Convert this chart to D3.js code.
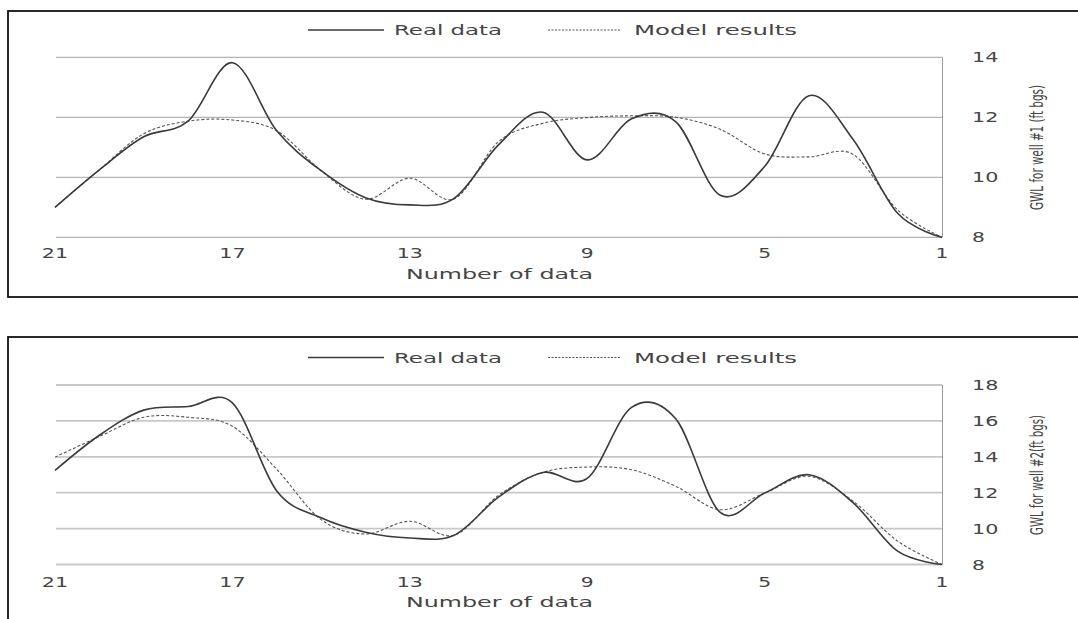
<!DOCTYPE html>
<html>
<head>
<meta charset="utf-8">
<script src="https://cdn.jsdelivr.net/npm/d3@7"></script>
<style>
  html, body { margin: 0; padding: 0; background: #fff; }
  svg { display: block; }
</style>
</head>
<body>
<svg id="chart" width="1078" height="619"></svg>
<script>
// ---- data ----
const categories = [21,20,19,18,17,16,15,14,13,12,11,10,9,8,7,6,5,4,3,2,1];
const xTickLabels = [21,17,13,9,5,1];

const well1Real  = [9.0,10.25,11.35,11.87,13.82,11.55,10.22,9.32,9.08,9.3,11.08,12.17,10.58,11.95,11.85,9.4,10.36,12.72,11.25,8.8,8.0];
const well1Model = [9.0,10.25,11.45,11.87,11.91,11.55,10.22,9.27,9.97,9.28,11.19,11.8,11.99,12.05,12.0,11.6,10.78,10.68,10.76,8.91,8.0];
const well1YTicks = [8,10,12,14];

const well2Real  = [13.24,15.2,16.6,16.8,17.0,12.1,10.6,9.8,9.48,9.63,11.75,13.13,12.8,16.75,16.1,10.9,11.98,13.0,11.43,8.74,8.0];
const well2Model = [13.98,15.13,16.2,16.2,15.7,13.3,10.5,9.7,10.41,9.63,11.85,13.13,13.43,13.28,12.35,11.05,11.98,12.91,11.52,9.3,8.0];
const well2YTicks = [8,10,12,14,16,18];

const legendLabels = ["Real data", "Model results"];
const xTitle = "Number of data";
const yTitles = ["GWL for well #1 (ft bgs)", "GWL for well #2(ft bgs)"];

// ---- drawing ----
const svg = d3.select("#chart");
svg.append("rect").attr("width",1078).attr("height",619).attr("fill","#fff");

const textColor = "#454545";
const font = "'DejaVu Sans', sans-serif";

function drawPanel(opt) {
  const g = svg.append("g");
  // panel border
  g.append("rect")
    .attr("x", 8).attr("y", opt.boxTop)
    .attr("width", 1200).attr("height", opt.boxHeight)
    .attr("fill", "none").attr("stroke", "#111").attr("stroke-width", 1.8);

  const x = d3.scalePoint().domain(categories).range([55, 942]);
  const y = d3.scaleLinear().domain(opt.yDomain).range([opt.plotBottom, opt.plotTop]);

  // gridlines
  g.selectAll("line.grid").data(opt.yTicks).enter().append("line")
    .attr("x1", 56).attr("x2", 942)
    .attr("y1", d => y(d)).attr("y2", d => y(d))
    .attr("stroke", opt.gridColor).attr("stroke-width", opt.gridWidth);

  // right axis line
  g.append("line")
    .attr("x1", 942.5).attr("x2", 942.5)
    .attr("y1", y(opt.yDomain[1])).attr("y2", y(opt.yDomain[0]))
    .attr("stroke", "#9a9a9a").attr("stroke-width", 1);

  // right axis tick labels
  g.selectAll("text.ytick").data(opt.yTicks).enter().append("text")
    .attr("x", 972).attr("y", d => y(d) + 5)
    .attr("font-family", font).attr("font-size", 14).attr("fill", textColor)
    .attr("textLength", d => String(d).length * 13.4 - 0.5)
    .attr("lengthAdjust", "spacingAndGlyphs")
    .text(d => d);

  // x tick labels
  g.selectAll("text.xtick").data(xTickLabels).enter().append("text")
    .attr("x", d => x(d)).attr("y", opt.xLabelY)
    .attr("text-anchor", "middle")
    .attr("font-family", font).attr("font-size", 14).attr("fill", textColor)
    .attr("textLength", d => String(d).length * 13.4 - 0.5)
    .attr("lengthAdjust", "spacingAndGlyphs")
    .text(d => d);

  // x title
  g.append("text")
    .attr("x", 406).attr("y", opt.xTitleY)
    .attr("font-family", font).attr("font-size", 14).attr("fill", textColor)
    .attr("textLength", 187).attr("lengthAdjust", "spacingAndGlyphs")
    .text(xTitle);

  // y title (rotated, horizontally condensed to fit the target length)
  const yt = g.append("text")
    .attr("text-anchor", "middle")
    .attr("font-family", font).attr("font-size", 18).attr("fill", textColor)
    .text(opt.yTitle);
  const natural = yt.node().getComputedTextLength() || 1;
  const k = opt.yTitleLen / natural;
  yt.attr("transform", `translate(1043,${opt.yTitleMid}) rotate(-90) scale(${k},1)`);

  // lines
  const line = d3.line()
    .x((d, i) => x(categories[i]))
    .y(d => y(d))
    .curve(d3.curveCardinal.tension(0));

  g.append("path").datum(opt.model)
    .attr("d", line).attr("fill", "none")
    .attr("stroke", "#555").attr("stroke-width", 1.1)
    .attr("stroke-dasharray", "3,2");

  g.append("path").datum(opt.real)
    .attr("d", line).attr("fill", "none")
    .attr("stroke", "#3a3a3a").attr("stroke-width", 1.6);

  // legend
  const ly = opt.legendY;
  g.append("line").attr("x1", 308).attr("x2", 384).attr("y1", ly).attr("y2", ly)
    .attr("stroke", "#3a3a3a").attr("stroke-width", 1.4);
  g.append("text").attr("x", 394).attr("y", ly + 5)
    .attr("font-family", font).attr("font-size", 14).attr("fill", textColor)
    .attr("textLength", 108).attr("lengthAdjust", "spacingAndGlyphs")
    .text(legendLabels[0]);
  g.append("line").attr("x1", 548).attr("x2", 621).attr("y1", ly).attr("y2", ly)
    .attr("stroke", "#555").attr("stroke-width", 1.1).attr("stroke-dasharray", "2,1.5");
  g.append("text").attr("x", 634).attr("y", ly + 5)
    .attr("font-family", font).attr("font-size", 14).attr("fill", textColor)
    .attr("textLength", 163).attr("lengthAdjust", "spacingAndGlyphs")
    .text(legendLabels[1]);
}

drawPanel({
  boxTop: 11, boxHeight: 286,
  plotTop: 57.3, plotBottom: 237.3,
  yDomain: [8, 14], yTicks: well1YTicks,
  gridColor: "#b4b4b4", gridWidth: 1.2,
  xLabelY: 258, xTitleY: 279,
  yTitle: yTitles[0], yTitleMid: 147.5, yTitleLen: 125,
  legendY: 30,
  real: well1Real, model: well1Model
});

drawPanel({
  boxTop: 337, boxHeight: 400,
  plotTop: 385, plotBottom: 564.5,
  yDomain: [8, 18], yTicks: well2YTicks,
  gridColor: "#c8c8c8", gridWidth: 1.8,
  xLabelY: 587, xTitleY: 607,
  yTitle: yTitles[1], yTitleMid: 475, yTitleLen: 120,
  legendY: 357.5,
  real: well2Real, model: well2Model
});
</script>
</body>
</html>
